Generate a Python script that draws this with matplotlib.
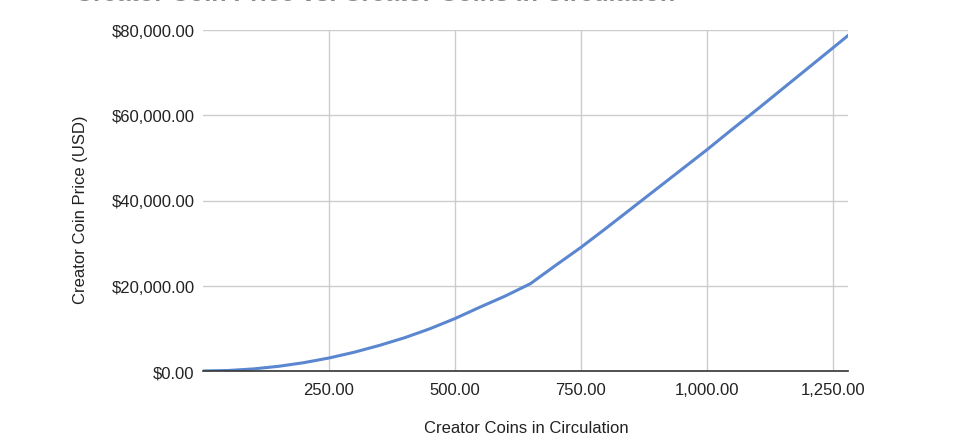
import matplotlib.pyplot as plt
from matplotlib.ticker import FuncFormatter

# values
coins = [0, 50, 100, 150, 200, 250, 300, 350, 400, 450, 500, 550, 600, 650,
         700, 750, 800, 850, 900, 950, 1000, 1050, 1100, 1150, 1200, 1250, 1280]
price = [0, 120, 490, 1100, 1950, 3050, 4400, 6000, 7800, 9900, 12300, 15000,
         17600, 20500, 24800, 29000, 33500, 38100, 42700, 47300, 51900, 56700,
         61400, 66200, 71000, 75800, 78700]
x_ticks = [250, 500, 750, 1000, 1250]
y_ticks = [0, 20000, 40000, 60000, 80000]

plt.rcParams['font.family'] = ['Liberation Sans', 'DejaVu Sans']

fig = plt.figure(figsize=(9.6, 4.39), dpi=100)
ax = fig.add_axes([203 / 960, 1 - 372 / 439, 645 / 960, 341 / 439])

ax.plot(coins, price, color='#5b87d0', lw=2.2, solid_joinstyle='round')

ax.set_xlim(0, 1280)
ax.set_ylim(0, 80000)
ax.set_xticks(x_ticks)
ax.set_yticks(y_ticks)
ax.xaxis.set_major_formatter(FuncFormatter(lambda v, p: f"{v:,.2f}"))
ax.yaxis.set_major_formatter(FuncFormatter(lambda v, p: f"${v:,.2f}"))
ax.tick_params(length=0, labelsize=12, colors='#222222')
ax.tick_params(axis='y', pad=6)
ax.tick_params(axis='x', pad=8)

ax.grid(True, color='#cccccc', lw=1)
ax.set_axisbelow(True)
for s in ['top', 'right', 'left']:
    ax.spines[s].set_visible(False)
ax.spines['bottom'].set_color('#333333')
ax.spines['bottom'].set_linewidth(1.2)

fig.text(80 / 960, 1 - 210 / 439, "Creator Coin Price (USD)", rotation=90,
         ha='center', va='center', fontsize=12, color='#222222')
fig.text(526 / 960, 1 - 429 / 439, "Creator Coins in Circulation",
         ha='center', va='center', fontsize=12, color='#222222')
fig.text(75 / 960, 1 - 1 / 439, "Creator Coin Price vs. Creator Coins in Circulation",
         ha='left', va='baseline', fontsize=18, fontweight='bold', color='#8a8a8a')

fig.savefig('out.png', dpi=100)
